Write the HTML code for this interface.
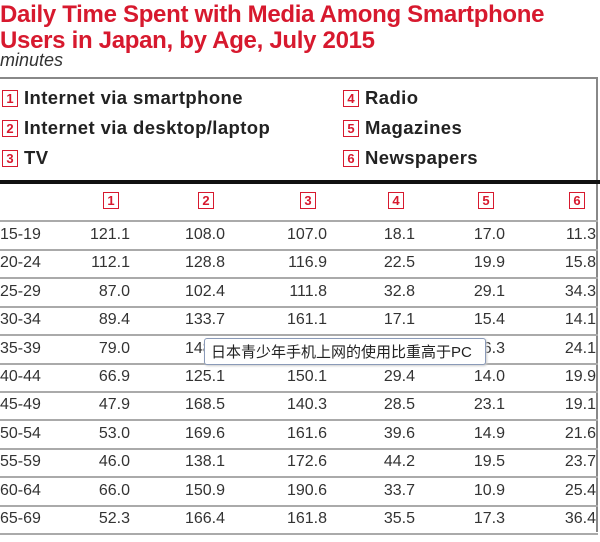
<!DOCTYPE html>
<html><head><meta charset="utf-8"><style>
body{margin:0;width:600px;height:542px;background:#fff;overflow:hidden;position:relative;font-family:"Liberation Sans","Noto Sans CJK SC",sans-serif}
.t{position:absolute;left:0;color:#d7192e;font-weight:bold;font-size:24px;letter-spacing:-0.3px;white-space:nowrap}
.box{display:inline-block;border:1.5px solid #d7192e;color:#d7192e;font-weight:bold;font-size:13px;width:14px;height:15px;line-height:15px;text-align:center;box-sizing:content-box}
.lg{position:absolute;font-weight:bold;font-size:18.5px;letter-spacing:0.4px;color:#222;white-space:nowrap}
.lg .box{margin-right:6px;vertical-align:1px;letter-spacing:0}
.a{position:absolute;white-space:nowrap;font-size:16px;color:#333}
.rule{position:absolute;left:0;width:598px;height:2px;background:#aaa}
</style></head><body>
<div class="t" style="top:1px">Daily Time Spent with Media Among Smartphone</div>
<div class="t" style="top:27px">Users in Japan, by Age, July 2015</div>
<div style="position:absolute;left:0;top:50px;font-style:italic;font-size:18px;color:#333">minutes</div>
<div style="position:absolute;left:0;top:77px;width:598px;height:2px;background:#888"></div>
<div style="position:absolute;left:596px;top:77px;width:2px;height:455px;background:#888"></div>
<div class="lg" style="left:2px;top:87px"><span class="box">1</span>Internet via smartphone</div>
<div class="lg" style="left:2px;top:117px"><span class="box">2</span>Internet via desktop/laptop</div>
<div class="lg" style="left:2px;top:147px"><span class="box">3</span>TV</div>
<div class="lg" style="left:343px;top:87px"><span class="box">4</span>Radio</div>
<div class="lg" style="left:343px;top:117px"><span class="box">5</span>Magazines</div>
<div class="lg" style="left:343px;top:147px"><span class="box">6</span>Newspapers</div>
<div style="position:absolute;left:0;top:180px;width:600px;height:4px;background:#111"></div>
<div id="tbl"></div>
<div style="position:absolute;left:204px;top:338px;width:282px;height:27px;background:#fff;border:1px solid #8a9ab8;border-radius:3px;box-shadow:1px 1px 2px #ccc;font-size:15px;line-height:27px;color:#222;padding-left:6px;box-sizing:border-box;white-space:nowrap">日本青少年手机上网的使用比重高于PC</div>
<script>
const ages=["15-19","20-24","25-29","30-34","35-39","40-44","45-49","50-54","55-59","60-64","65-69"];
const smartphone=[121.1,112.1,87.0,89.4,79.0,66.9,47.9,53.0,46.0,66.0,52.3];
const desktop=[108.0,128.8,102.4,133.7,148.0,125.1,168.5,169.6,138.1,150.9,166.4];
const tv=[107.0,116.9,111.8,161.1,163.8,150.1,140.3,161.6,172.6,190.6,161.8];
const radio=[18.1,22.5,32.8,17.1,26.4,29.4,28.5,39.6,44.2,33.7,35.5];
const magazines=[17.0,19.9,29.1,15.4,16.3,14.0,23.1,14.9,19.5,10.9,17.3];
const newspapers=[11.3,15.8,34.3,14.1,24.1,19.9,19.1,21.6,23.7,25.4,36.4];
const series=[smartphone,desktop,tv,radio,magazines,newspapers];
const colRight=[130,225,327,415,505,596];
const tbl=document.getElementById('tbl');
function y(i){return 236+i*28.4;}
for(let c=0;c<6;c++){
  const h=document.createElement('span');
  h.className='box';h.textContent=String(c+1);
  
  
  h.style.position='absolute';h.style.top='192px';h.style.left=(colRight[c]-27)+'px';
  tbl.appendChild(h);
}
const r0=document.createElement('div');r0.className='rule';r0.style.top='220px';


tbl.appendChild(r0);
ages.forEach((a,i)=>{
  const l=document.createElement('div');l.className='a';l.textContent=a;
  
  
  l.style.left='0px';l.style.top=(y(i)-10)+'px';tbl.appendChild(l);
  series.forEach((s,c)=>{
    const v=document.createElement('div');v.className='a';v.textContent=s[i].toFixed(1);
    
    
    v.style.right=(600-colRight[c])+'px';v.style.top=(y(i)-10)+'px';tbl.appendChild(v);
  });
  const r=document.createElement('div');r.className='rule';r.style.top=(y(i)+13)+'px';
  
  
  tbl.appendChild(r);
});
</script>
</body></html>
